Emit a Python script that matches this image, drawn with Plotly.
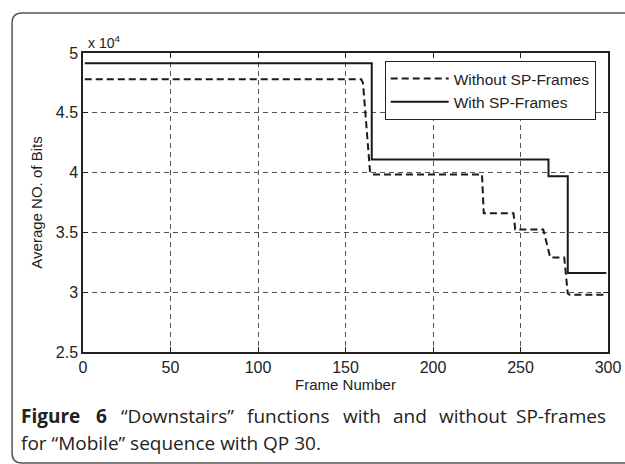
import plotly.graph_objects as go

# Data
without_frames = [1, 159, 160, 164, 165, 228, 229, 246, 247, 263, 267, 275, 277, 278, 299]
without_bits = [4.78, 4.78, 4.75, 4.01, 3.985, 3.985, 3.66, 3.66, 3.525, 3.525, 3.29, 3.29, 2.99, 2.978, 2.978]
without_bits = [v * 1e4 for v in without_bits]

with_frames = [1, 165, 165, 266, 266, 277, 277, 299]
with_bits = [4.915, 4.915, 4.11, 4.11, 3.97, 3.97, 3.16, 3.16]
with_bits = [v * 1e4 for v in with_bits]

x_ticks = [0, 50, 100, 150, 200, 250, 300]
y_ticks = [25000, 30000, 35000, 40000, 45000, 50000]
y_tick_labels = ["2.5", "3", "3.5", "4", "4.5", "5"]

caption_words = ["Figure", "6", "“Downstairs”", "functions", "with", "and", "without", "SP-frames"]
caption_line2 = "for “Mobile” sequence with QP 30."

AX_FONT = "Liberation Sans, Arial"

fig = go.Figure()
fig.add_trace(go.Scatter(x=without_frames, y=without_bits, mode="lines",
                         name="Without SP-Frames", legendgroup="a",
                         line=dict(color="#1a1a1a", width=2, dash="7px,4px")))
fig.add_trace(go.Scatter(x=with_frames, y=with_bits, mode="lines",
                         name="With SP-Frames", legendgroup="b",
                         line=dict(color="#1a1a1a", width=2)))

axis_common = dict(showline=True, linecolor="#222", linewidth=1.5, mirror="ticks",
                   ticks="inside", ticklen=5, tickcolor="#222", automargin=False,
                   showgrid=True, gridcolor="#555", gridwidth=1, griddash="5px,4px",
                   zeroline=False, tickfont=dict(family=AX_FONT, size=16, color="#222"))

fig.update_xaxes(range=[0, 300], tickvals=x_ticks, **axis_common,
                 title=dict(text="Frame Number", standoff=0,
                            font=dict(family=AX_FONT, size=15, color="#222")))
fig.update_yaxes(range=[25000, 50000], tickvals=y_ticks, ticktext=y_tick_labels, **axis_common,
                 title=dict(text="Average NO. of Bits", standoff=10,
                            font=dict(family=AX_FONT, size=15, color="#222")))

# Outer rounded frame (paper coords: plot spans x 83..608.5, y 53..352 px)
def px_x(p):
    return (p - 83) / 525.5

def px_y(p):
    return (352 - p) / 299

r = 10
path = (f"M {px_x(640)},{px_y(463)} L {px_x(12 + r)},{px_y(463)} "
        f"Q {px_x(12)},{px_y(463)} {px_x(12)},{px_y(463 - r)} "
        f"L {px_x(12)},{px_y(13 + r)} Q {px_x(12)},{px_y(13)} {px_x(12 + r)},{px_y(13)} "
        f"L {px_x(640)},{px_y(13)}")
fig.add_shape(type="path", path=path, xref="paper", yref="paper",
              line=dict(color="#555", width=1.5))

fig.add_annotation(text="x 10<sup>4</sup>", xref="paper", yref="paper",
                   x=px_x(86), y=px_y(53), xanchor="left", yanchor="bottom",
                   showarrow=False, font=dict(family=AX_FONT, size=14, color="#222"))

# Justified first caption line: word start positions (px)
cap_font = dict(family="Open Sans", size=19, color="#222")
word_x = [19, 94, 119, 245, 341, 391, 437, 609]
for i, (w, xp) in enumerate(zip(caption_words, word_x)):
    txt = f"<b>{w}</b>" if i < 2 else w
    fig.add_annotation(text=txt, xref="paper", yref="paper", x=px_x(xp), y=px_y(416),
                       xanchor="right" if i == len(caption_words) - 1 else "left",
                       yanchor="middle", showarrow=False, font=cap_font)
fig.add_annotation(text=caption_line2,
                   xref="paper", yref="paper", x=px_x(19), y=px_y(443),
                   xanchor="left", yanchor="middle", showarrow=False, font=cap_font)

fig.update_layout(
    width=625, height=464,
    margin=dict(l=83, r=16.5, t=53, b=112),
    paper_bgcolor="white", plot_bgcolor="white",
    showlegend=True,
    legend=dict(x=px_x(385), y=px_y(61), xanchor="left", yanchor="top",
                bgcolor="white", bordercolor="#222", borderwidth=1,
                font=dict(family=AX_FONT, size=15.5, color="#222"),
                itemwidth=58, tracegroupgap=0, traceorder="grouped"),
)

fig.write_html("out.html", post_script="document.body.style.margin='0';",
               config={"displayModeBar": False})
